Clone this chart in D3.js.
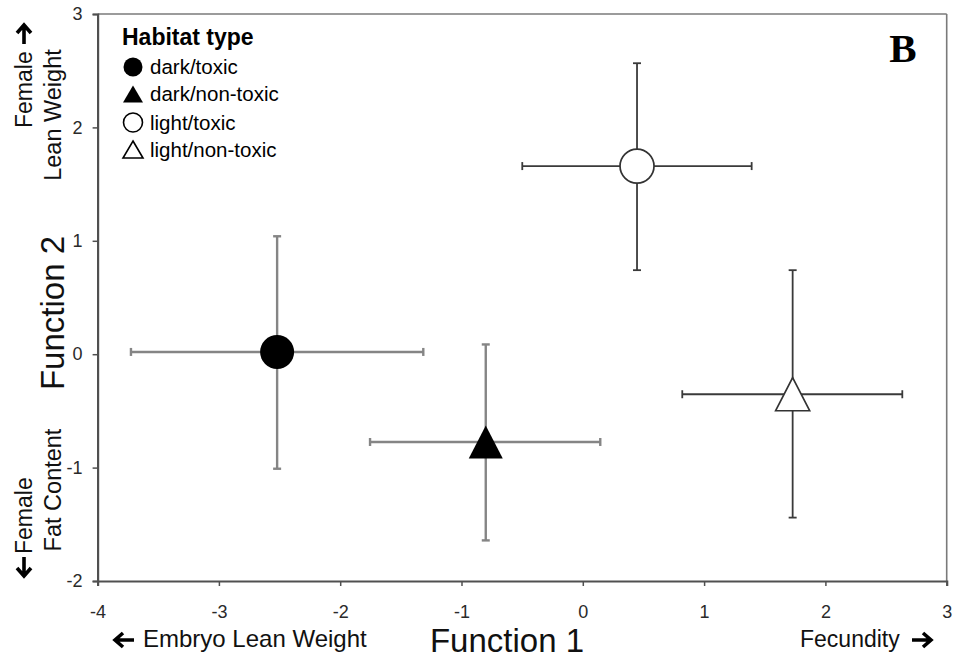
<!DOCTYPE html>
<html>
<head>
<meta charset="utf-8">
<script src="https://cdn.jsdelivr.net/npm/d3@7"></script>
<style>
  html, body { margin: 0; padding: 0; background: #fff; }
  svg { display: block; }
  text { font-family: "Liberation Sans", Arial, sans-serif; }
</style>
</head>
<body>
<svg id="chart" width="957" height="659"></svg>
<script>
// Group centroids on the two discriminant functions, with error bars
const groups   = ["dark/toxic", "dark/non-toxic", "light/toxic", "light/non-toxic"];
const shapes   = ["circle", "triangle", "circle", "triangle"];
const filled   = [true, true, false, false];
const f1Mean   = [-2.52, -0.80, 0.447, 1.73];
const f1Low    = [-3.725, -1.754, -0.499, 0.82];
const f1High   = [-1.315, 0.144, 1.392, 2.634];
const f2Mean   = [0.02, -0.774, 1.659, -0.353];
const f2Low    = [-1.01, -1.642, 0.741, -1.441];
const f2High   = [1.04, 0.086, 2.566, 0.741];
const xTicks   = [-4, -3, -2, -1, 0, 1, 2, 3];
const yTicks   = [-2, -1, 0, 1, 2, 3];

const svg = d3.select("#chart");
const x = d3.scaleLinear().domain([-4, 3]).range([97.6, 946.7]);
const y = d3.scaleLinear().domain([-2, 3]).range([581, 14]);

// frame: top and right border
svg.append("line").attr("x1", x(-4)).attr("x2", x(3)).attr("y1", y(3)).attr("y2", y(3))
  .attr("stroke", "#7a7a7a").attr("stroke-width", 1.6);
svg.append("line").attr("x1", x(3)).attr("x2", x(3)).attr("y1", y(3)).attr("y2", y(-2))
  .attr("stroke", "#7a7a7a").attr("stroke-width", 1.6);

// axes
const fmt = d => String(d);
const gx = svg.append("g").attr("transform", `translate(0,${y(-2)})`)
  .call(d3.axisBottom(x).tickValues(xTicks).tickFormat(fmt).tickSize(5).tickPadding(19));
const gy = svg.append("g").attr("transform", `translate(${x(-4)},0)`)
  .call(d3.axisLeft(y).tickValues(yTicks).tickFormat(fmt).tickSize(5).tickPadding(10));
[gx, gy].forEach(g => {
  g.select(".domain").attr("stroke", "#505050").attr("stroke-width", 2.2);
  g.selectAll(".tick line").attr("stroke", "#505050").attr("stroke-width", 1.5);
  g.selectAll(".tick text").attr("fill", "#2a2a2a").style("font-size", "18px")
    .style("font-family", "'Liberation Sans', Arial, sans-serif");
});

// error bars
const data = groups.map((g, i) => ({
  g, shape: shapes[i], filled: filled[i],
  x: f1Mean[i], xl: f1Low[i], xh: f1High[i],
  y: f2Mean[i], yl: f2Low[i], yh: f2High[i]
}));
const cap = 4;
const eb = svg.append("g").selectAll("g").data(data).join("g")
  .attr("stroke", d => d.filled ? "#858585" : "#3a3a3a")
  .attr("stroke-width", d => d.filled ? 2.4 : 1.8)
  .attr("fill", "none");
eb.append("line").attr("x1", d => x(d.xl)).attr("x2", d => x(d.xh)).attr("y1", d => y(d.y)).attr("y2", d => y(d.y));
eb.append("line").attr("x1", d => x(d.x)).attr("x2", d => x(d.x)).attr("y1", d => y(d.yl)).attr("y2", d => y(d.yh));
eb.append("line").attr("x1", d => x(d.xl)).attr("x2", d => x(d.xl)).attr("y1", d => y(d.y) - cap).attr("y2", d => y(d.y) + cap);
eb.append("line").attr("x1", d => x(d.xh)).attr("x2", d => x(d.xh)).attr("y1", d => y(d.y) - cap).attr("y2", d => y(d.y) + cap);
eb.append("line").attr("y1", d => y(d.yl)).attr("y2", d => y(d.yl)).attr("x1", d => x(d.x) - cap).attr("x2", d => x(d.x) + cap);
eb.append("line").attr("y1", d => y(d.yh)).attr("y2", d => y(d.yh)).attr("x1", d => x(d.x) - cap).attr("x2", d => x(d.x) + cap);

// marker path centred on its bounding box
function markerPath(shape, w, h) {
  if (shape === "circle") {
    const p = d3.path(); p.arc(0, 0, w / 2, 0, 2 * Math.PI); p.closePath(); return p.toString();
  }
  const p = d3.path();
  p.moveTo(0, -h / 2); p.lineTo(w / 2, h / 2); p.lineTo(-w / 2, h / 2); p.closePath();
  return p.toString();
}

svg.append("g").selectAll("path").data(data).join("path")
  .attr("transform", d => `translate(${x(d.x)},${y(d.y)})`)
  .attr("d", d => markerPath(d.shape, 34, 33))
  .attr("fill", d => d.filled ? "#000" : "#fff")
  .attr("stroke", d => d.filled ? "none" : "#333")
  .attr("stroke-width", 1.7);

// legend
const lg = svg.append("g");
lg.append("text").attr("x", 122).attr("y", 45).text("Habitat type")
  .style("font-size", "23px").style("font-weight", "bold").attr("fill", "#000");
const rowY = [67, 94, 122.5, 149.5];
const li = lg.selectAll("g.item").data(data).join("g").attr("class", "item")
  .attr("transform", (d, i) => `translate(133,${rowY[i]})`);
li.append("path").attr("d", d => markerPath(d.shape, d.shape === "circle" ? 19 : 20, 17))
  .attr("fill", d => d.filled ? "#000" : "#fff")
  .attr("stroke", d => d.filled ? "none" : "#000").attr("stroke-width", 1.6);
li.append("text").attr("x", 17).attr("y", 7).text(d => d.g)
  .style("font-size", "20.5px").attr("fill", "#000");

// panel letter
svg.append("text").attr("x", 903).attr("y", 62).attr("text-anchor", "middle").text("B")
  .style("font-family", "'Liberation Serif', 'Times New Roman', serif")
  .style("font-size", "41px").style("font-weight", "bold");

// axis titles
svg.append("text").attr("x", 507).attr("y", 652).attr("text-anchor", "middle").text("Function 1")
  .style("font-size", "33px").attr("fill", "#111");
svg.append("text").attr("transform", "translate(64,313) rotate(-90)").attr("text-anchor", "middle")
  .text("Function 2").style("font-size", "33px").attr("fill", "#111");

// heavy arrow glyph drawn as a path; (cx, cy) centre, angle in degrees (0 = right)
function arrow(cx, cy, angle) {
  const p = d3.path();
  p.moveTo(-10, 0); p.lineTo(7, 0);
  p.moveTo(1, -7); p.lineTo(9, 0); p.lineTo(1, 7);
  svg.append("path").attr("d", p.toString())
    .attr("transform", `translate(${cx},${cy}) rotate(${angle})`)
    .attr("fill", "none").attr("stroke", "#000").attr("stroke-width", 3.6)
    .attr("stroke-linejoin", "miter").attr("stroke-linecap", "butt");
}

// bottom pole labels
svg.append("text").attr("x", 143).attr("y", 647).text("Embryo Lean Weight")
  .style("font-size", "24px").attr("fill", "#111");
arrow(124, 640, 180);
svg.append("text").attr("x", 800).attr("y", 647).text("Fecundity")
  .style("font-size", "23px").attr("fill", "#111");
arrow(922, 640, 0);

// left pole labels (rotated)
svg.append("text").attr("transform", "translate(32,128) rotate(-90)").text("Female")
  .style("font-size", "23px").attr("fill", "#111");
arrow(24, 34, -90);
svg.append("text").attr("transform", "translate(61,115) rotate(-90)").attr("text-anchor", "middle")
  .text("Lean Weight").style("font-size", "23.5px").attr("fill", "#111");

svg.append("text").attr("transform", "translate(32,554) rotate(-90)").text("Female")
  .style("font-size", "23px").attr("fill", "#111");
arrow(24, 567, 90);
svg.append("text").attr("transform", "translate(61,490) rotate(-90)").attr("text-anchor", "middle")
  .text("Fat Content").style("font-size", "23.5px").attr("fill", "#111");
</script>
</body>
</html>
